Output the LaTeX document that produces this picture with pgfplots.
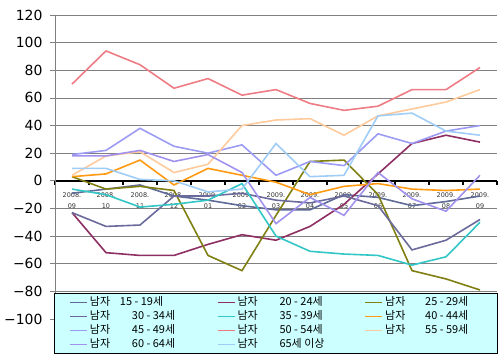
\documentclass[border=0pt]{standalone}
\usepackage{fontspec}
\setmainfont{DejaVu Sans}
\newfontfamily\kr{Noto Sans CJK KR}
\usepackage{pgfplots}
\pgfplotsset{compat=1.18}
\definecolor{cA}{HTML}{5F6A96}
\definecolor{cB}{HTML}{8E2F63}
\definecolor{cC}{HTML}{7F7F12}
\definecolor{cD}{HTML}{6A6A9C}
\definecolor{cE}{HTML}{33C6C6}
\definecolor{cF}{HTML}{FF9A12}
\definecolor{cG}{HTML}{9C9CF4}
\definecolor{cH}{HTML}{EE7C84}
\definecolor{cI}{HTML}{FFCA9C}
\definecolor{cJ}{HTML}{A292EE}
\definecolor{cK}{HTML}{9FCDF6}
\definecolor{legbg}{HTML}{CCFFFF}
\definecolor{gridg}{HTML}{808080}
\begin{document}
\begin{tikzpicture}
\begin{axis}[
  at={(55bp,41bp)}, anchor=south west,
  scale only axis, width=442bp, height=304bp,
  xmin=-0.5, xmax=12.5, ymin=-100, ymax=120,
  axis x line=middle, axis y line=left,
  hide obscured x ticks=false, hide obscured y ticks=false,
  x axis line style={-, black, line width=1.6bp},
  y axis line style={-, gridg, line width=0.8bp},
  xtick={0,...,12},
  xticklabels={{2008.\\09},{2008.\\10},{2008.\\11},{2008.\\12},{2009.\\01},{2009.\\02},{2009.\\03},{2009.\\04},{2009.\\05},{2009.\\06},{2009.\\07},{2009.\\08},{2009.\\09}},
  xticklabel style={align=center, font=\fontsize{6.5}{11.5}\selectfont, yshift=-3bp, text=black!80},
  major x tick style={draw=none},
  minor xtick={-0.5,0.5,...,12.5},
  minor x tick style={black, line width=1.2bp},
  minor tick length=4bp,
  xtick align=outside,
  ytick={-100,-80,...,120},
  yticklabels={−100,−80,−60,−40,−20,0,20,40,60,80,100,120},
  yticklabel style={font=\fontsize{14}{14}\selectfont, xshift=-4bp},
  ytick align=outside,
  major tick length=5bp,
  y tick style={gridg, line width=0.8bp},
  ymajorgrids=true,
  major grid style={gridg, line width=0.8bp},
  every axis plot/.append style={line width=1.6bp, no markers},
  legend columns=3,
  legend cell align=left,
  legend image code/.code={\draw[#1] (0bp,0bp) -- (17bp,0bp);},
  legend style={at={(-0.0023,0.0855)}, anchor=north west, draw=black, line width=0.8bp,
    fill=legbg, inner xsep=15bp, inner ysep=3bp,
    font=\kr\fontsize{11}{11}\selectfont,
    nodes={inner xsep=2bp, inner ysep=0bp, text height=9bp, text depth=3bp},
    row sep=2bp},
]
\addplot[cA] coordinates {(0,-9)(1,-6)(2,-3)(3,-11)(4,-14)(5,-18)(6,-21)(7,-21)(8,-10)(9,-12)(10,-18)(11,-15)(12,-11)};
\addlegendentry{\makebox[125bp][l]{\makebox[30bp][l]{남자}15 - 19세}}
\addplot[cB] coordinates {(0,-23)(1,-52)(2,-54)(3,-54)(4,-46)(5,-39)(6,-43)(7,-33)(8,-17)(9,5)(10,27)(11,33)(12,28)};
\addlegendentry{\makebox[125bp][l]{\makebox[42bp][l]{남자}20 - 24세}}
\addplot[cC] coordinates {(0,3)(1,-6)(2,-4)(3,-7)(4,-54)(5,-65)(6,-25)(7,14)(8,15)(9,-10)(10,-65)(11,-71)(12,-79)};
\addlegendentry{\makebox[95bp][l]{\makebox[40bp][l]{남자}25 - 29세}}
\addplot[cD] coordinates {(0,-23)(1,-33)(2,-32)(3,-11)(4,-11)(5,-9)(6,-14)(7,-16)(8,-11)(9,-18)(10,-50)(11,-43)(12,-28)};
\addlegendentry{\makebox[125bp][l]{\makebox[42bp][l]{남자}30 - 34세}}
\addplot[cE] coordinates {(0,-6)(1,-10)(2,-19)(3,-17)(4,-14)(5,-2)(6,-40)(7,-51)(8,-53)(9,-54)(10,-61)(11,-55)(12,-30)};
\addlegendentry{\makebox[125bp][l]{\makebox[42bp][l]{남자}35 - 39세}}
\addplot[cF] coordinates {(0,3)(1,5)(2,15)(3,-3)(4,9)(5,4)(6,-1)(7,-10)(8,-4)(9,-2)(10,-6)(11,-7)(12,-6)};
\addlegendentry{\makebox[95bp][l]{\makebox[40bp][l]{남자}40 - 44세}}
\addplot[cG] coordinates {(0,19)(1,22)(2,38)(3,25)(4,20)(5,26)(6,4)(7,14)(8,11)(9,34)(10,27)(11,36)(12,40)};
\addlegendentry{\makebox[125bp][l]{\makebox[42bp][l]{남자}45 - 49세}}
\addplot[cH] coordinates {(0,70)(1,94)(2,84)(3,67)(4,74)(5,62)(6,66)(7,56)(8,51)(9,54)(10,66)(11,66)(12,82)};
\addlegendentry{\makebox[125bp][l]{\makebox[42bp][l]{남자}50 - 54세}}
\addplot[cI] coordinates {(0,4)(1,18)(2,21)(3,6)(4,12)(5,40)(6,44)(7,45)(8,33)(9,47)(10,52)(11,57)(12,66)};
\addlegendentry{\makebox[95bp][l]{\makebox[40bp][l]{남자}55 - 59세}}
\addplot[cJ] coordinates {(0,18)(1,18)(2,22)(3,14)(4,19)(5,6)(6,-31)(7,-12)(8,-25)(9,6)(10,-13)(11,-22)(12,4)};
\addlegendentry{\makebox[125bp][l]{\makebox[42bp][l]{남자}60 - 64세}}
\addplot[cK] coordinates {(0,9)(1,9)(2,1)(3,0)(4,-8)(5,-6)(6,27)(7,3)(8,4)(9,47)(10,49)(11,36)(12,33)};
\addlegendentry{\makebox[125bp][l]{\makebox[42bp][l]{남자}65세 이상}}
\end{axis}
\pgfresetboundingbox
\path[use as bounding box] (0,0) rectangle (500bp,360bp);
\end{tikzpicture}
\end{document}
